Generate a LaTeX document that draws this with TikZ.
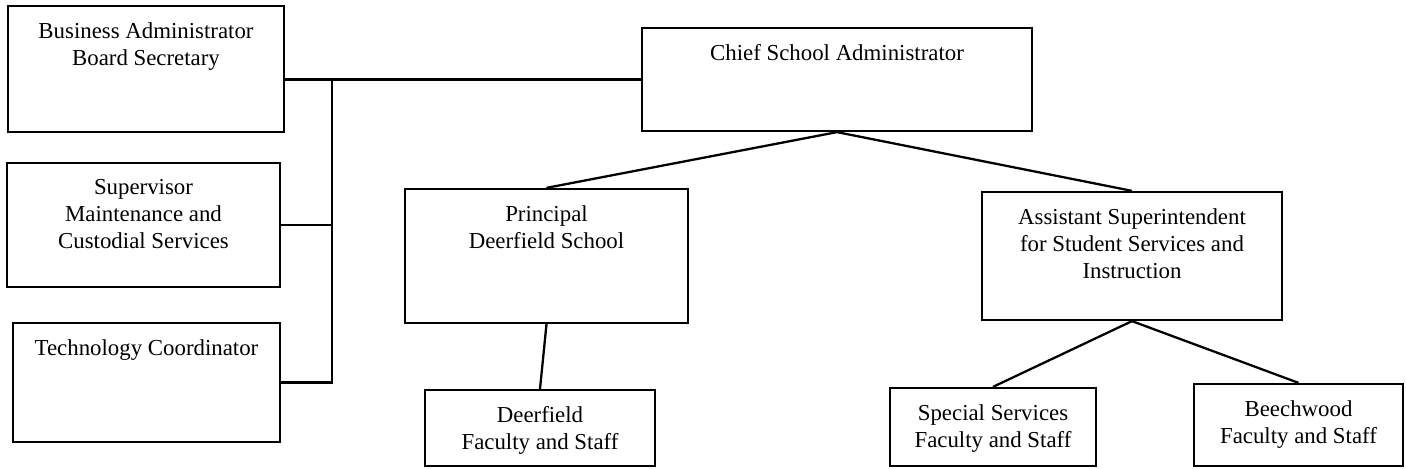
\documentclass[tikz,border=0pt]{standalone}
\usepackage{fontspec}
\setmainfont{Liberation Serif}
\usetikzlibrary{positioning}

\begin{document}
\begin{tikzpicture}[x=0.02cm, y=-0.02cm, line width=1.3pt,
                        post/.style={draw, rectangle, inner sep=0pt},
                        title/.style={anchor=north, align=center, inner sep=0pt, yshift=-9.5pt, font=\fontsize{13}{15.4}\selectfont}]
                        \useasboundingbox (0, 0) rectangle (1406, 469);

                        % staff on the left
                        \node[post, minimum width=5.52cm, minimum height=2.52cm, label={[title]north:Business Administrator\\Board Secretary}] (busadm) at (146, 69) {};
                        \node[post, minimum width=5.46cm, minimum height=2.48cm, label={[title]north:Supervisor\\Maintenance and\\Custodial Services}] (supvr) at (143.5, 225) {};
                        \node[post, minimum width=5.34cm, minimum height=2.38cm, label={[title]north:Technology Coordinator}] (techco) at (146.5, 382.5) {};

                        % top and second row
                        \node[post, minimum width=7.8cm, minimum height=2.06cm, label={[title]north:Chief School Administrator}] (chief) at (837, 79.5) {};
                        \node[post, minimum width=5.66cm, minimum height=2.68cm, label={[title]north:Principal\\Deerfield School}] (princ) at (546.5, 256) {};
                        \node[post, minimum width=6cm, minimum height=2.56cm, label={[title]north:Assistant Superintendent\\for Student Services and\\Instruction}] (asst) at (1132, 256) {};

                        % faculty boxes
                        \node[post, minimum width=4.6cm, minimum height=1.52cm, label={[title]north:Deerfield\\Faculty and Staff}] (deerfs) at (540, 428) {};
                        \node[post, minimum width=4.12cm, minimum height=1.56cm, label={[title]north:Special Services\\Faculty and Staff}] (specfs) at (993, 427) {};
                        \node[post, minimum width=4.18cm, minimum height=1.64cm, label={[title]north:Beechwood\\Faculty and Staff}] (beechfs) at (1298.5, 425) {};

                        \coordinate (spine) at (332, 79);
                        \draw (chief.west) -- (chief.west -| busadm.east);
                        \draw (spine) |- (techco.east);
                        \draw (supvr.east) -- (supvr.east -| spine);

                        \draw
                        (chief.south) edge (princ.north)
                        (chief.south) edge (asst.north)
                        (princ.south) edge (deerfs.north)
                        (asst.south) edge (specfs.north)
                        (asst.south) edge (beechfs.north);
                    \end{tikzpicture}
\end{document}
